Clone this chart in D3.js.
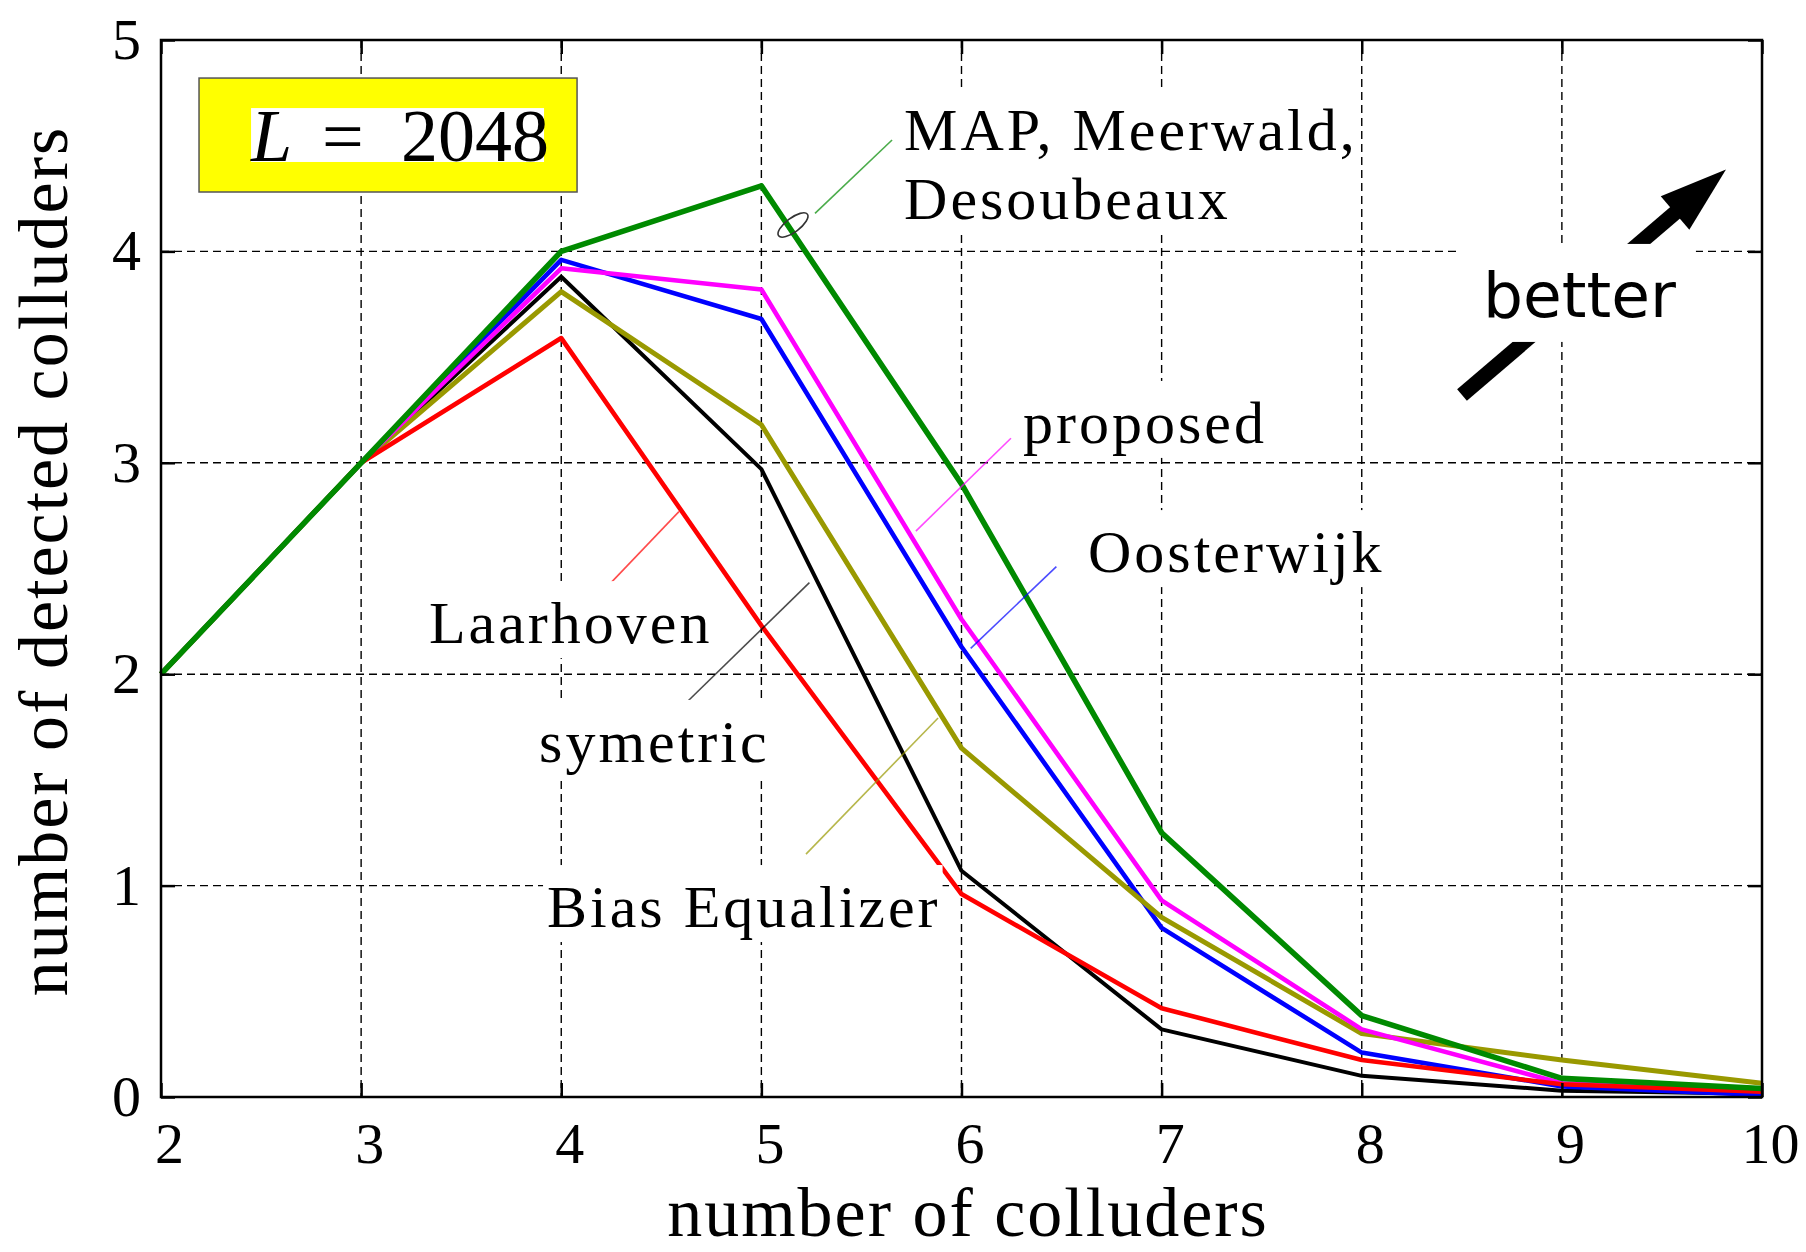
<!DOCTYPE html>
<head>
<meta charset="utf-8">
<script src="https://d3js.org/d3.v7.min.js"></script>
<style>
body{ margin:0; background:#fff; }
text{ font-family:"Liberation Serif", serif; fill:#000; }
.tick text{ font-size:58px; }
.axis path.domain{ display:none; }
.axis .tick line{ stroke:#000; stroke-width:2.5; }
.grid line{ stroke:#000; stroke-width:1.4; stroke-dasharray:8,5; }
.note{ font-size:60px; letter-spacing:3px; }
.axisTitle{ font-size:70px; letter-spacing:2px; }
.series{ fill:none; stroke-linejoin:round; }
.leader{ stroke-width:1.6; opacity:0.7; }
.better{ font-family:"DejaVu Sans", sans-serif; font-size:63px; }
</style>
<title>number of detected colluders, L = 2048</title>
</head>
<body>
<script>
const width = 1806;
const height = 1252;
const margin = {top:40, right:44, bottom:155, left:161};

// data
const colluders     = [2, 3, 4, 5, 6, 7, 8, 9, 10];
const symetric      = [2, 3, 3.88, 2.97, 1.07, 0.32, 0.10, 0.03, 0.015];
const oosterwijk    = [2, 3, 3.96, 3.68, 2.13, 0.80, 0.21, 0.05, 0.01];
const biasEqualizer = [2, 3, 3.81, 3.18, 1.65, 0.85, 0.30, 0.175, 0.065];
const proposed      = [2, 3, 3.92, 3.82, 2.26, 0.93, 0.32, 0.065, 0.035];
const laarhoven     = [2, 3, 3.59, 2.23, 0.96, 0.42, 0.175, 0.06, 0.025];
const mapMeerwald   = [2, 3, 4.00, 4.31, 2.90, 1.25, 0.385, 0.088, 0.04];

const xTicks = [2, 3, 4, 5, 6, 7, 8, 9, 10];
const yTicks = [0, 1, 2, 3, 4, 5];

const series = [
   {name:'symetric',      values:symetric,      colour:'#000000', w:4},
   {name:'Oosterwijk',    values:oosterwijk,    colour:'#0000ff', w:4.6},
   {name:'Bias Equalizer',values:biasEqualizer, colour:'#999900', w:5},
   {name:'proposed',      values:proposed,      colour:'#ff00ff', w:4.6},
   {name:'Laarhoven',     values:laarhoven,     colour:'#ff0000', w:4.6},
   {name:'MAP',           values:mapMeerwald,   colour:'#008a00', w:5.6}
];

// annotation layout (data units)
const notes = [
   {lines:['MAP, Meerwald,','Desoubeaux'], x:5.713, y:4.48,  colour:'#008a00', from:[5.268,4.180], to:[5.653,4.527]},
   {lines:['proposed'],       x:6.307, y:3.094, colour:'#ff00ff', from:[5.772,2.677], to:[6.247,3.116]},
   {lines:['Oosterwijk'],     x:6.632, y:2.483, colour:'#0000ff', from:[6.046,2.122], to:[6.474,2.509]},
   {lines:['Laarhoven'],      x:3.339, y:2.147, colour:'#ff0000', from:[4.249,2.433], to:[4.588,2.769]},
   {lines:['symetric'],       x:3.889, y:1.585, colour:'#000000', from:[4.623,1.864], to:[5.240,2.433]},
   {lines:['Bias Equalizer'], x:3.929, y:0.804, colour:'#999900', from:[5.223,1.149], to:[5.883,1.793]}
];

const svg = d3.select('body').append('svg')
   .attr('width', width)
   .attr('height', height);

const x = d3.scaleLinear()
   .domain([2, 10])
   .range([margin.left, width - margin.right]);

const y = d3.scaleLinear()
   .domain([0, 5])
   .range([height - margin.bottom, margin.top]);

// grid
const grid = svg.append('g').attr('class', 'grid');
grid.selectAll('line.v')
   .data(xTicks)
   .join('line')
   .attr('class', 'v')
   .attr('x1', d => x(d)).attr('x2', d => x(d))
   .attr('y1', y(5)).attr('y2', y(0));
grid.selectAll('line.h')
   .data(yTicks)
   .join('line')
   .attr('class', 'h')
   .attr('x1', x(2)).attr('x2', x(10))
   .attr('y1', d => y(d)).attr('y2', d => y(d));

// series
const line = d3.line()
   .x((d, i) => x(colluders[i]))
   .y(d => y(d));

svg.selectAll('path.series')
   .data(series)
   .join('path')
   .attr('class', 'series')
   .attr('d', d => line(d.values))
   .style('stroke', d => d.colour)
   .style('stroke-width', d => d.w);

// leader lines
svg.selectAll('line.leader')
   .data(notes)
   .join('line')
   .attr('class', 'leader')
   .attr('x1', d => x(d.from[0])).attr('y1', d => y(d.from[1]))
   .attr('x2', d => x(d.to[0])).attr('y2', d => y(d.to[1]))
   .style('stroke', d => d.colour);

// ellipse grouping the MAP / Meerwald / Desoubeaux curve
const ex = x(5.158), ey = y(4.125);
svg.append('ellipse')
   .attr('cx', ex).attr('cy', ey)
   .attr('rx', 18).attr('ry', 7)
   .attr('transform', `rotate(-37,${ex},${ey})`)
   .style('fill', 'none')
   .style('stroke', '#333')
   .style('stroke-width', 1.6);

// text labels with white backgrounds
notes.forEach(n => {
   const g = svg.append('g');
   const bg = g.append('rect').style('fill', '#fff');
   const t = g.append('text')
      .attr('class', 'note')
      .attr('x', x(n.x))
      .attr('y', y(n.y));
   n.lines.forEach((s, i) => {
      t.append('tspan')
         .attr('x', x(n.x))
         .attr('dy', i == 0 ? 0 : '1.15em')
         .text(s);
   });
   const bb = t.node().getBBox();
   const base = y(n.y);
   const last = base + (n.lines.length - 1) * 69;
   bg.attr('x', bb.x - 4)
     .attr('width', bb.width + 6)
     .attr('y', base - 62)
     .attr('height', last + 15 - (base - 62));
});

// "better" arrow
const tail = [x(8.501), y(3.321)];
const tip  = [x(9.820), y(4.388)];
const ang  = Math.atan2(tip[1] - tail[1], tip[0] - tail[0]);
const headLen = 67, headHalf = 22;
const hb = [tip[0] - headLen * Math.cos(ang), tip[1] - headLen * Math.sin(ang)];
svg.append('line')
   .attr('x1', tail[0]).attr('y1', tail[1])
   .attr('x2', hb[0] + 4 * Math.cos(ang)).attr('y2', hb[1] + 4 * Math.sin(ang))
   .style('stroke', '#000')
   .style('stroke-width', 15);
svg.append('polygon')
   .attr('points', [
      tip,
      [hb[0] + headHalf * Math.sin(ang), hb[1] - headHalf * Math.cos(ang)],
      [hb[0] - headHalf * Math.sin(ang), hb[1] + headHalf * Math.cos(ang)]
   ].map(p => p.join(',')).join(' '))
   .style('fill', '#000');

const betterX = x(8.606), betterY = y(3.69);
const betterBg = svg.append('rect').style('fill', '#fff');
const better = svg.append('text')
   .attr('class', 'better')
   .attr('x', betterX)
   .attr('y', betterY)
   .text('better');
const bbb = better.node().getBBox();
betterBg.attr('x', bbb.x - 25)
   .attr('width', bbb.width + 45)
   .attr('y', betterY - 73)
   .attr('height', 98);

// L = 2048 box
svg.append('rect')
   .attr('x', x(2.19)).attr('y', y(4.82))
   .attr('width', x(4.079) - x(2.19))
   .attr('height', y(4.281) - y(4.82))
   .style('fill', '#ffff00')
   .style('stroke', '#555')
   .style('stroke-width', 1.5);
svg.append('rect')
   .attr('x', x(2.45)).attr('y', y(4.678))
   .attr('width', x(3.914) - x(2.45))
   .attr('height', y(4.423) - y(4.678))
   .style('fill', '#fff');
const lt = svg.append('text')
   .attr('y', y(4.428))
   .style('font-size', '74px');
lt.append('tspan').attr('x', x(2.45)).style('font-style', 'italic').text('L');
lt.append('tspan').attr('x', x(2.805)).text('=');
lt.append('tspan').attr('x', x(3.199)).text('2048');

// axes
const xAxis = d3.axisBottom(x)
   .tickValues(xTicks)
   .tickSizeInner(-14)
   .tickSizeOuter(0)
   .tickPadding(25)
   .tickFormat(d3.format('d'));
svg.append('g')
   .attr('class', 'axis xAxis')
   .attr('transform', `translate(0,${y(0)})`)
   .call(xAxis)
   .selectAll('text')
   .attr('dx', 8);

svg.append('g')
   .attr('class', 'axis')
   .attr('transform', `translate(0,${y(5)})`)
   .call(d3.axisTop(x).tickValues(xTicks).tickSizeInner(-14).tickSizeOuter(0).tickFormat(''));

svg.append('g')
   .attr('class', 'axis yAxis')
   .attr('transform', `translate(${x(2)},0)`)
   .call(d3.axisLeft(y).tickValues(yTicks).tickSizeInner(-14).tickSizeOuter(0).tickPadding(20).tickFormat(d3.format('d')));

svg.append('g')
   .attr('class', 'axis')
   .attr('transform', `translate(${x(10)},0)`)
   .call(d3.axisRight(y).tickValues(yTicks).tickSizeInner(-14).tickSizeOuter(0).tickFormat(''));

svg.append('rect')
   .attr('x', x(2)).attr('y', y(5))
   .attr('width', x(10) - x(2))
   .attr('height', y(0) - y(5))
   .style('fill', 'none')
   .style('stroke', '#000')
   .style('stroke-width', 2.5);

// axis titles
svg.append('text')
   .attr('class', 'axisTitle')
   .attr('x', 968)
   .attr('y', 1236)
   .style('text-anchor', 'middle')
   .text('number of colluders');

svg.append('text')
   .attr('class', 'axisTitle')
   .attr('transform', 'translate(67,561) rotate(-90)')
   .style('text-anchor', 'middle')
   .text('number of detected colluders');
</script>
</body>
